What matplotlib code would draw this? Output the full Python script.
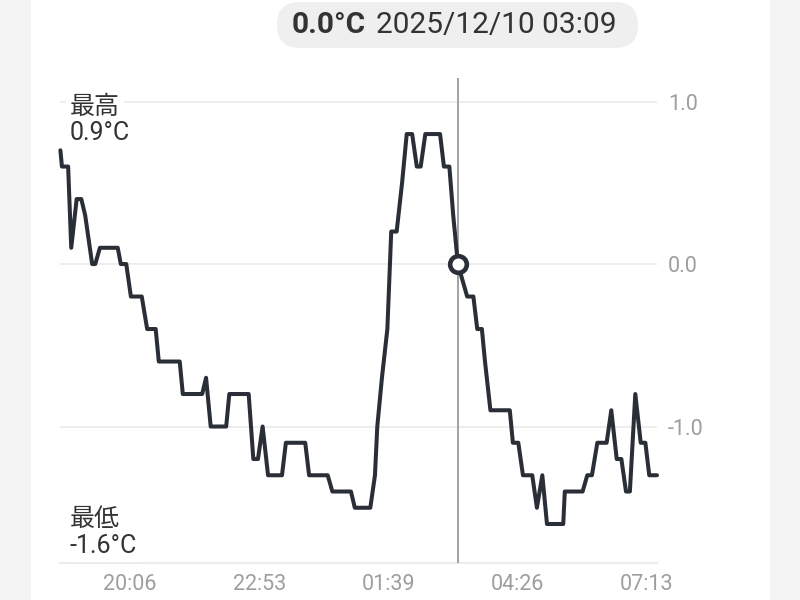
import matplotlib.pyplot as plt
from matplotlib.patches import FancyBboxPatch, Rectangle

plt.rcParams["font.family"] = ["Roboto", "Noto Sans CJK JP", "DejaVu Sans"]

# temperature readings (time, °C)
times = [
    "18:36", "18:38", "18:46", "18:50", "18:57", "19:03", "19:08", "19:17", "19:21", "19:27",
    "19:50", "19:54", "20:01", "20:07", "20:21", "20:28", "20:39", "20:43", "21:10", "21:14",
    "21:39", "21:44", "21:50", "22:10", "22:14", "22:39", "22:45", "22:51", "22:57", "23:04",
    "23:22", "23:27", "23:52", "23:57", "00:21", "00:27", "00:51", "00:56", "01:16", "01:22",
    "01:25", "01:31", "01:38", "01:43", "01:50", "01:57", "02:03", "02:10", "02:16", "02:21",
    "02:27", "02:46", "02:51", "02:58", "03:03", "03:09", "03:21", "03:29", "03:34", "03:40",
    "03:44", "03:51", "04:16", "04:20", "04:27", "04:33", "04:45", "04:51", "04:58", "05:04",
    "05:25", "05:27", "05:50", "05:56", "06:02", "06:09", "06:21", "06:27", "06:34", "06:40",
    "06:46", "06:51", "06:58", "07:05", "07:11", "07:16", "07:26",
]
temps = [
    0.7, 0.6, 0.6, 0.1, 0.4, 0.4, 0.3, 0.0, 0.0, 0.1,
    0.1, 0.0, 0.0, -0.2, -0.2, -0.4, -0.4, -0.6, -0.6, -0.8,
    -0.8, -0.7, -1.0, -1.0, -0.8, -0.8, -1.2, -1.2, -1.0, -1.3,
    -1.3, -1.1, -1.1, -1.3, -1.3, -1.4, -1.4, -1.5, -1.5, -1.3,
    -1.0, -0.7, -0.4, 0.2, 0.2, 0.5, 0.8, 0.8, 0.6, 0.6,
    0.8, 0.8, 0.6, 0.6, 0.3, 0.0, -0.2, -0.2, -0.4, -0.4,
    -0.6, -0.9, -0.9, -1.1, -1.1, -1.3, -1.3, -1.5, -1.3, -1.6,
    -1.6, -1.4, -1.4, -1.3, -1.3, -1.1, -1.1, -0.9, -1.2, -1.2,
    -1.4, -1.4, -0.8, -1.1, -1.1, -1.3, -1.3,
]
tick_times = ["20:06", "22:53", "01:39", "04:26", "07:13"]
y_ticks = [1.0, 0.0, -1.0]
cursor_time = "03:09"
cursor_temp = 0.0
max_temp = 0.9
min_temp = -1.6


def to_min(s):
    h, m = map(int, s.split(":"))
    t = h * 60 + m - 18 * 60
    if h < 12:
        t += 24 * 60
    return t


x = [to_min(t) for t in times]

fig = plt.figure(figsize=(8, 6), dpi=100)
fig.patch.set_facecolor("#f4f4f4")
fig.patches.append(Rectangle((31 / 800, 0), 739 / 800, 1, transform=fig.transFigure,
                             facecolor="white", edgecolor="none", zorder=-1))

ax = fig.add_axes([60 / 800, 1 - 563 / 600, 597 / 800, 485 / 600])
ax.set_zorder(1)
ax.set_facecolor("none")
ax.set_xlim(35.5, 806)
ax.set_ylim(-1.84, 1.145)

grid_c = "#ececec"
for v in y_ticks:
    ax.axhline(v, color=grid_c, lw=1.3, zorder=1)
ax.axhline(-1.84, color=grid_c, lw=1.5, zorder=1, clip_on=False)

ax.axvline(to_min(cursor_time), color="#9c9c9c", lw=1.3, zorder=2)
ax.plot(x, temps, color="#2a2e37", lw=2.9, solid_joinstyle="round",
        solid_capstyle="round", zorder=3, clip_on=False)
ax.plot([to_min(cursor_time)], [cursor_temp], marker="o", ms=12, mfc="white",
        mec="#2a2e37", mew=3.3, zorder=4)

for s in ax.spines.values():
    s.set_visible(False)
ax.set_xticks([to_min(t) for t in tick_times])
ax.set_xticklabels(tick_times)
ax.yaxis.tick_right()
ax.set_yticks(y_ticks)
ax.set_yticklabels([f"{v:.1f}" for v in y_ticks])
ax.tick_params(length=0, labelsize=15.5, labelcolor="#9e9e9e")
ax.tick_params(axis="x", pad=8)
ax.tick_params(axis="y", pad=8)

# max / min labels
lab = dict(fontsize=18, color="#333333", ha="left", va="top", zorder=5,
           bbox=dict(boxstyle="square,pad=0.15", fc="white", ec="none"))
fig.text(70 / 800, 1 - 95 / 600, "最高", **lab)
fig.text(70 / 800, 1 - 121 / 600, f"{max_temp:.1f}°C", **lab)
fig.text(70 / 800, 1 - 507 / 600, "最低", **lab)
fig.text(70 / 800, 1 - 534 / 600, f"{min_temp:.1f}°C", **lab)

# tooltip pill
fig.patches.append(FancyBboxPatch((277, 600 - 48), 361, 46,
                                  boxstyle="round,pad=0,rounding_size=23",
                                  transform=None, facecolor="#efefef", edgecolor="none"))
fig.text(292 / 800, 1 - 25 / 600, f"{cursor_temp:.1f}°C", fontsize=21.5, fontweight="bold",
         color="#333333", ha="left", va="center")
fig.text(376 / 800, 1 - 25 / 600, "2025/12/10 " + cursor_time, fontsize=21.5,
         color="#333333", ha="left", va="center")

fig.savefig("out.png", dpi=100, facecolor=fig.get_facecolor())
